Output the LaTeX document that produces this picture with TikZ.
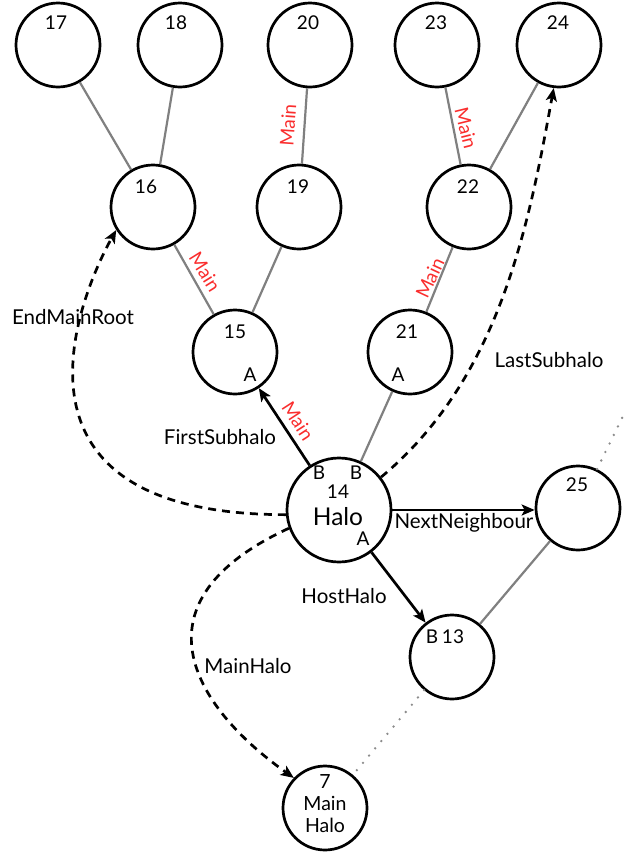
\documentclass[tikz,border=0pt]{standalone}
\usepackage{fontspec}
\setmainfont{Lato}
\usetikzlibrary{arrows.meta}
\definecolor{mainred}{RGB}{250,45,45}
\definecolor{edgegray}{RGB}{128,128,128}
\definecolor{dotgray}{RGB}{140,140,140}
\begin{document}
\begin{tikzpicture}[x=1pt,y=-1pt,
  halo/.style={circle,draw,line width=2.7pt,minimum size=84pt,inner sep=0pt},
  bighalo/.style={halo,minimum size=104pt},
  num/.style={font=\fontsize{19}{19}\selectfont,inner sep=0pt},
  bignum/.style={font=\fontsize{24.5}{24.5}\selectfont,inner sep=0pt},
  tree/.style={draw=edgegray,line width=2.2pt},
  dots/.style={draw=dotgray,line width=2.6pt,line cap=round,dash pattern=on 0pt off 9.5pt},
  ptr/.style={draw,line width=2.7pt,-{Stealth[length=13pt,width=11pt,inset=3pt]}},
  dptr/.style={ptr,dash pattern=on 8pt off 6pt},
  lbl/.style={font=\fontsize{20.5}{20.5}\selectfont,inner sep=0pt},
  mainlbl/.style={font=\fontsize{19}{19}\selectfont,inner sep=0pt,text=mainred}]
\useasboundingbox (0,0) rectangle (627,854);
\fill[white] (0,0) rectangle (627,854);

% halo nodes
\node[halo] (n17) at (58,45) {};
\node[halo] (n18) at (180,45) {};
\node[halo] (n20) at (310,45) {};
\node[halo] (n23) at (437,45) {};
\node[halo] (n24) at (559,45) {};
\node[halo] (n16) at (153,207) {};
\node[halo] (n19) at (299,207) {};
\node[halo] (n22) at (469,207) {};
\node[halo] (n15) at (235,352) {};
\node[halo] (n21) at (410,352) {};
\node[bighalo] (n14) at (339,510) {};
\node[halo] (n25) at (578,508) {};
\node[halo] (n13) at (452,657) {};
\node[halo] (n7) at (325,808) {};

% texts inside nodes
\node[num] (t17) at (56,23) {17};
\node[num] (t18) at (176,23) {18};
\node[num] (t20) at (308,23) {20};
\node[num] (t23) at (436,23) {23};
\node[num] (t24) at (558,23) {24};
\node[num] (t16) at (146,187) {16};
\node[num] (t19) at (298,187) {19};
\node[num] (t22) at (468,187) {22};
\node[num] (t15) at (235,332) {15};
\node[num] (a15) at (250,375) {A};
\node[num] (t21) at (407,332) {21};
\node[num] (a21) at (398,375) {A};
\node[num] (b14a) at (319,473) {B};
\node[num] (b14b) at (356,473) {B};
\node[num] (t14) at (338,492) {14};
\node[bignum] (h14) at (338,517) {Halo};
\node[num] (a14) at (363,539) {A};
\node[num] (t25) at (577,485) {25};
\node[num] (b13) at (432,637) {B};
\node[num] (t13) at (453,637) {13};
\node[num,align=center,font=\fontsize{19.5}{22}\selectfont] (t7) at (325,804) {7\\Main\\Halo};

% tree edges
\draw[tree] (n17) -- (n16);
\draw[tree] (n18) -- (n16);
\draw[tree] (n20) -- (n19);
\draw[tree] (n23) -- (n22);
\draw[tree] (n24) -- (n22);
\draw[tree] (n16) -- (n15);
\draw[tree] (n19) -- (n15);
\draw[tree] (n22) -- (n21);
\draw[tree] (n21) -- (n14);
\draw[tree] (n25) -- (n13);

% dotted edges
\coordinate (c25) at (626,410);
\draw[dots] (n13) -- (n7);
\draw[dots] (n25) -- (c25);

% pointers
\draw[ptr] (n14) -- (n15);
\draw[ptr] (n14.east) -- (n14.east -| n25.west);
\draw[ptr] (n14) -- (n13);
\draw[dptr] (n14.185) .. controls +(-305,0) and +(-32,57) .. (n16.212);
\draw[dptr] (n14.38) .. controls +(119,-99) and +(-25,137) .. (n24.263);
\draw[dptr] (n14.200) .. controls +(-158,73) and +(-103,-73) .. (n7.136);

% red labels
\node[mainlbl,rotate=86] (m1) at (288,125) {Main};
\node[mainlbl,rotate=-76] (m2) at (466,128) {Main};
\node[mainlbl,rotate=-58] (m3) at (205,272) {Main};
\node[mainlbl,rotate=65] (m4) at (430,278) {Main};
\node[mainlbl,rotate=-57] (m5) at (298,421) {Main};

% pointer labels
\node[lbl] (lEnd) at (73,317) {EndMainRoot};
\node[lbl] (lFirst) at (220,437) {FirstSubhalo};
\node[lbl] (lNext) at (464,523) {NextNeighbour};
\node[lbl] (lHost) at (344,596) {HostHalo};
\node[lbl] (lMainHalo) at (248,666) {MainHalo};
\node[lbl] (lLast) at (549,360) {LastSubhalo};
\end{tikzpicture}
\end{document}
